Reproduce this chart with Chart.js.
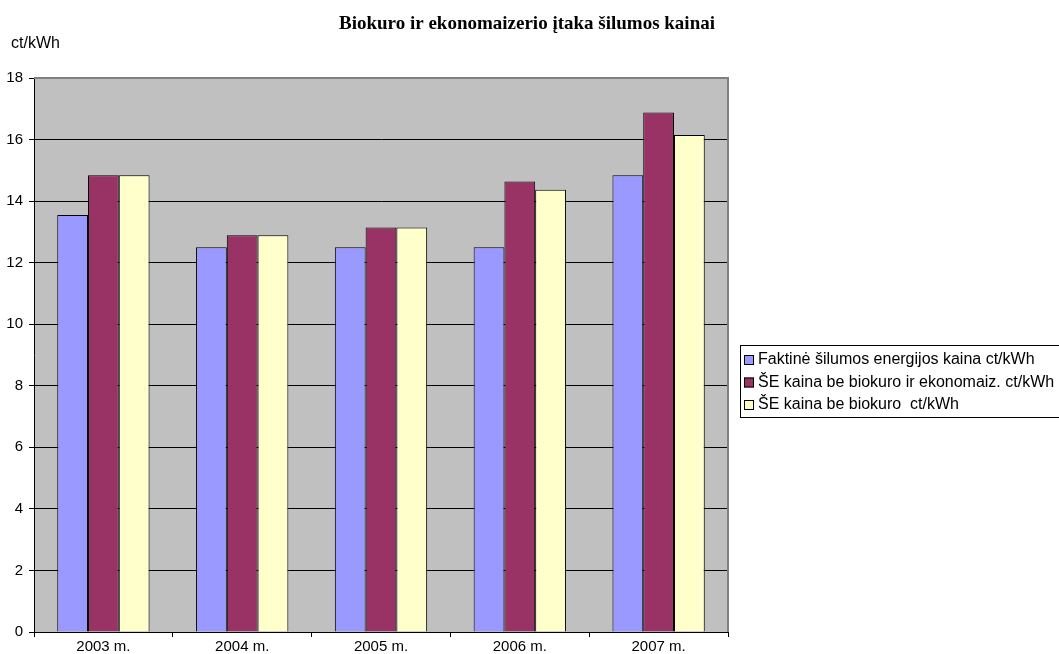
<!DOCTYPE html>
<html>
<head>
<meta charset="utf-8">
<script src="https://cdn.jsdelivr.net/npm/chart.js@4/dist/chart.umd.min.js"></script>
<style>
  html, body { margin: 0; padding: 0; background: #fff; }
  canvas { display: block; }
</style>
</head>
<body>
<canvas id="grafica" width="1059" height="654"></canvas>
<script>
const titulas = "Biokuro ir ekonomaizerio įtaka šilumos kainai";
const vienetai = "ct/kWh";
const metai = ["2003 m.", "2004 m.", "2005 m.", "2006 m.", "2007 m."];
const faktine = [13.55, 12.5, 12.5, 12.5, 14.84];
const beBiokuroIrEkon = [14.84, 12.89, 13.14, 14.64, 16.88];
const beBiokuro = [14.84, 12.89, 13.14, 14.37, 16.15];
const serijos = [
  "Faktinė šilumos energijos kaina ct/kWh",
  "ŠE kaina be biokuro ir ekonomaiz. ct/kWh",
  "ŠE kaina be biokuro  ct/kWh"
];
const spalvos = ["#9999FF", "#993366", "#FFFFCC"];

const fonas = {
  id: "fonas",
  beforeDraw(chart) {
    const { ctx, chartArea: a } = chart;
    ctx.save();
    ctx.fillStyle = "#C0C0C0";
    ctx.fillRect(a.left, a.top, a.right - a.left, a.bottom - a.top);
    ctx.restore();
  },
  afterDraw(chart) {
    const { ctx, chartArea: a } = chart;
    ctx.save();
    // remelis virsuje ir desineje
    ctx.strokeStyle = "#808080";
    ctx.lineWidth = 2;
    ctx.beginPath();
    ctx.moveTo(a.left, a.top);
    ctx.lineTo(a.right, a.top);
    ctx.lineTo(a.right, a.bottom);
    ctx.stroke();

    // pavadinimas
    ctx.fillStyle = "#000";
    ctx.font = "bold 19px 'Liberation Serif', 'Times New Roman', serif";
    ctx.textAlign = "center";
    ctx.textBaseline = "middle";
    ctx.fillText(titulas, 527, 24);

    ctx.font = "16px 'Liberation Sans', Arial, sans-serif";
    ctx.textAlign = "left";
    ctx.fillText(vienetai, 11, 44);

    // legenda
    const x0 = 740, y0 = 345;
    ctx.lineWidth = 1;
    ctx.strokeStyle = "#000";
    ctx.strokeRect(x0 + 0.5, y0 + 0.5, 330, 72);
    ctx.font = "16px 'Liberation Sans', Arial, sans-serif";
    chart.data.datasets.forEach((d, i) => {
      const y = y0 + 15 + i * 22.5;
      ctx.fillStyle = d.backgroundColor;
      ctx.fillRect(x0 + 4, y - 5, 10, 10);
      ctx.strokeRect(x0 + 4.5, y - 4.5, 9, 9);
      ctx.fillStyle = "#000";
      ctx.fillText(d.label, x0 + 18, y);
    });
    ctx.restore();
  }
};

const duomenys = [faktine, beBiokuroIrEkon, beBiokuro];

new Chart(document.getElementById("grafica").getContext("2d"), {
  type: "bar",
  data: {
    labels: metai,
    datasets: duomenys.map((v, i) => ({
      label: serijos[i],
      data: v,
      backgroundColor: spalvos[i],
      borderColor: "#000",
      borderWidth: 1,
      barPercentage: 1,
      categoryPercentage: 0.665
    }))
  },
  options: {
    responsive: false,
    animation: false,
    layout: { padding: { top: 78, right: 331, bottom: 0, left: 0 } },
    plugins: {
      legend: { display: false },
      title: { display: false },
      tooltip: { enabled: false }
    },
    scales: {
      x: {
        afterFit(s) { s.height = 22; },
        grid: { drawOnChartArea: false, drawTicks: true, tickLength: 5, color: "#000" },
        border: { color: "#000", width: 1 },
        ticks: { color: "#000", padding: 1, font: { family: "'Liberation Sans', Arial", size: 15 } }
      },
      y: {
        min: 0,
        max: 18,
        afterFit(s) { s.width = 34; },
        grid: {
          color: c => (c.tick && c.tick.value === 18 ? "rgba(0,0,0,0)" : "#000"),
          tickColor: "#000",
          tickLength: 5,
          lineWidth: 1
        },
        border: { color: "#000", width: 1 },
        ticks: { stepSize: 2, color: "#000", padding: 6, font: { family: "'Liberation Sans', Arial", size: 15 } }
      }
    }
  },
  plugins: [fonas]
});
</script>
</body>
</html>
